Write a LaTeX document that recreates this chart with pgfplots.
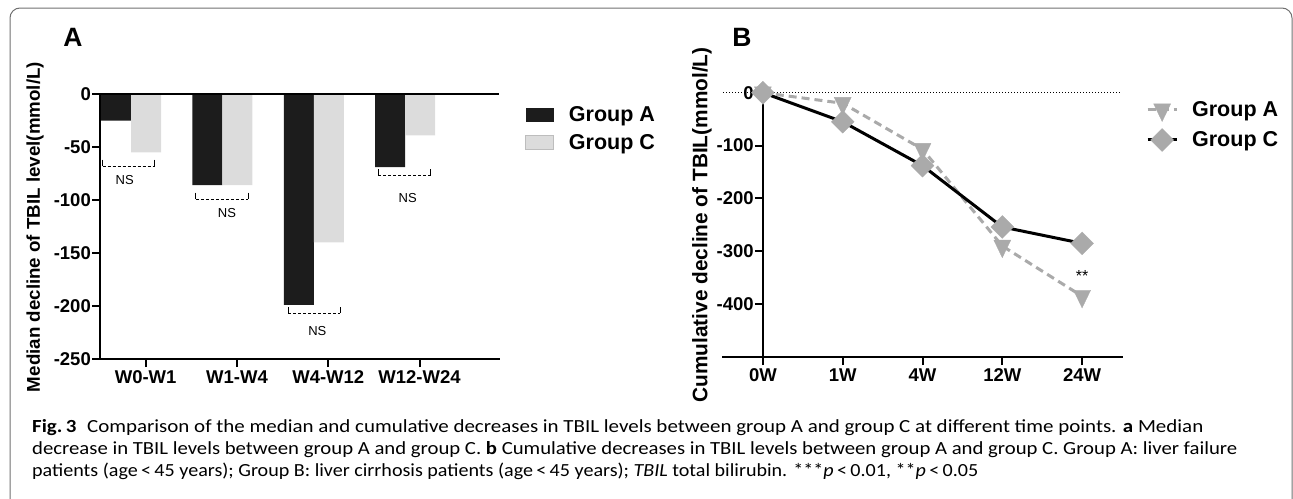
\documentclass[border=0pt]{standalone}
\usepackage{pgfplots}
\pgfplotsset{compat=1.18}
\usepackage{fontspec}
\usepackage{graphicx}
\setmainfont{Liberation Sans}
\newfontfamily\capfont{Carlito}
\definecolor{barA}{HTML}{1C1C1C}
\definecolor{barC}{HTML}{DCDCDC}
\definecolor{barCedge}{HTML}{BDBDBD}
\definecolor{mk}{HTML}{AAAAAA}
\definecolor{framec}{HTML}{707070}
\newcommand\tickfont{\bfseries\fontsize{18.5}{20}\selectfont}
\newcommand\legfont{\bfseries\fontsize{21.5}{24}\selectfont}
\begin{document}
\begin{tikzpicture}
\useasboundingbox (0,0) rectangle (1293pt,-498pt);
\draw[framec, line width=1pt, rounded corners=10pt] (10pt,-520pt) -- (10pt,-8pt) -- (1292pt,-8pt) -- (1292pt,-520pt);

% ---------------- Panel A ----------------
\begin{axis}[
  at={(100pt,-359pt)}, anchor=south west,
  scale only axis, width=399pt, height=265pt,
  xmin=-0.5, xmax=3.87, ymin=-250, ymax=0,
  axis x line=bottom, axis y line=left,
  axis line style={-, line width=2pt, line cap=rect},
  tick style={line width=2pt, black}, major tick length=8pt, tick align=outside,
  xtick={0,1,2,3}, xticklabels={W0-W1,W1-W4,W4-W12,W12-W24},
  ytick={-250,-200,-150,-100,-50,0}, yticklabels={-250,-200,-150,-100,-50,0},
  ticklabel style={font=\tickfont},
  yticklabel style={inner sep=1pt},
  clip=false,
  legend style={at={(1.065,0.96)}, anchor=north west, draw=none, fill=none,
    font=\legfont, row sep=7pt, inner sep=0pt},
  legend cell align=left,
]
\addplot[ybar, bar width=30pt, bar shift=-29.5pt, fill=barA, draw=none,
  legend image code/.code={\fill[barA] (0pt,-7pt) rectangle (28pt,7pt);}]
  coordinates {(0,-25) (1,-86) (2,-199) (3,-69)};
\addlegendentry{\hspace{13pt}Group A}
\addplot[ybar, bar width=30pt, bar shift=0.5pt, fill=barC, draw=none,
  legend image code/.code={\draw[barCedge, fill=barC, line width=0.8pt] (0pt,-7pt) rectangle (28pt,7pt);}]
  coordinates {(0,-55) (1,-86) (2,-140) (3,-39)};
\addlegendentry{\hspace{13pt}Group C}
\addplot[black, line width=2pt, forget plot] coordinates {(-0.5,0) (3.87,0)};
% NS brackets
\draw[line width=0.8pt] (axis cs:-0.47,-62) -- (axis cs:-0.47,-68);
\draw[line width=0.8pt] (axis cs:0.10,-62) -- (axis cs:0.10,-68);
\draw[line width=0.8pt, dash pattern=on 3pt off 2pt] (axis cs:-0.47,-68) -- (axis cs:0.10,-68);
\node[font=\fontsize{13}{15}\selectfont] at (axis cs:-0.23,-81) {NS};
\draw[line width=0.8pt] (axis cs:0.55,-93) -- (axis cs:0.55,-99);
\draw[line width=0.8pt] (axis cs:1.12,-93) -- (axis cs:1.12,-99);
\draw[line width=0.8pt, dash pattern=on 3pt off 2pt] (axis cs:0.55,-99) -- (axis cs:1.12,-99);
\node[font=\fontsize{13}{15}\selectfont] at (axis cs:0.89,-112) {NS};
\draw[line width=0.8pt] (axis cs:1.56,-201) -- (axis cs:1.56,-207);
\draw[line width=0.8pt] (axis cs:2.13,-201) -- (axis cs:2.13,-207);
\draw[line width=0.8pt, dash pattern=on 3pt off 2pt] (axis cs:1.56,-207) -- (axis cs:2.13,-207);
\node[font=\fontsize{13}{15}\selectfont] at (axis cs:1.88,-224) {NS};
\draw[line width=0.8pt] (axis cs:2.55,-71) -- (axis cs:2.55,-77);
\draw[line width=0.8pt] (axis cs:3.12,-71) -- (axis cs:3.12,-77);
\draw[line width=0.8pt, dash pattern=on 3pt off 2pt] (axis cs:2.55,-77) -- (axis cs:3.12,-77);
\node[font=\fontsize{13}{15}\selectfont] at (axis cs:2.87,-98) {NS};
\end{axis}

% ---------------- Panel B ----------------
\begin{axis}[
  at={(723pt,-357pt)}, anchor=south west,
  scale only axis, width=399pt, height=264.3pt,
  xmin=-0.5, xmax=4.5, ymin=-500, ymax=0,
  axis x line=bottom, axis y line=center,
  hide obscured x ticks=false, hide obscured y ticks=false,
  axis line style={-, line width=2pt, line cap=rect},
  tick style={line width=2pt, black}, major tick length=8pt, tick align=outside,
  xtick={0,1,2,3,4}, xticklabels={0W,1W,4W,12W,24W},
  ytick={-400,-300,-200,-100,0}, yticklabels={-400,-300,-200,-100,0},
  ticklabel style={font=\tickfont},
  yticklabel style={inner sep=1pt, anchor=east},
  clip=false,
  legend style={at={(1.06,0.975)}, anchor=north west, draw=none, fill=none,
    font=\legfont, row sep=7pt, inner sep=0pt},
  legend cell align=left,
  legend image code/.code={\draw[#1, mark repeat=2, mark phase=2] plot coordinates {(0pt,0pt) (14.5pt,0pt) (29pt,0pt)};},
]
\addplot[black, dotted, line width=1pt, forget plot] coordinates {(-0.5,0) (4.5,0)};
\addplot[mk, line width=3pt, dash pattern=on 8pt off 5pt,
  mark=triangle*, mark size=9.8pt, mark options={solid, rotate=180, yscale=1.2, fill=mk, draw=mk, line width=0.3pt}]
  coordinates {(0,0) (1,-20) (2,-107) (3,-290) (4,-385)};
\addlegendentry{\hspace{12pt}Group A}
\addplot[black, line width=3pt,
  mark=square*, mark size=8.1pt, mark options={solid, rotate=45, fill=mk, draw=mk, line width=0.3pt}]
  coordinates {(0,0) (1,-55) (2,-138) (3,-254) (4,-285)};
\addlegendentry{\hspace{12pt}Group C}
\node[anchor=base, font=\fontsize{16}{18}\selectfont] at (axis cs:4,-357) {**};
\end{axis}

% panel letters and axis titles
\node[font=\bfseries\fontsize{26.5}{30}\selectfont] at (73pt,-37.5pt) {A};
\node[font=\bfseries\fontsize{26.5}{30}\selectfont] at (742pt,-37.5pt) {B};
\node[rotate=90, inner sep=0pt, font=\bfseries\fontsize{18.5}{20}\selectfont] at (35pt,-227pt)
  {\resizebox{330pt}{\height}{Median decline of TBIL level(mmol/L)}};
\node[rotate=90, inner sep=0pt, font=\bfseries\fontsize{21}{24}\selectfont] at (702pt,-225pt)
  {\resizebox{355pt}{\height}{Cumulative decline of TBIL(mmol/L)}};

% caption
\node[anchor=base west, inner sep=0pt] at (32pt,-432pt) {\resizebox{1171pt}{\height}{\capfont\fontsize{18.5}{22}\selectfont\textbf{Fig.\,3}\enspace Comparison of the median and cumulative decreases in TBIL levels between group A and group C at different time points. \textbf{a} Median}};
\node[anchor=base west, inner sep=0pt] at (32pt,-454pt) {\resizebox{1205pt}{\height}{\capfont\fontsize{18.5}{22}\selectfont decrease in TBIL levels between group A and group C. \textbf{b} Cumulative decreases in TBIL levels between group A and group C. Group A: liver failure}};
\node[anchor=base west, inner sep=0pt] at (32pt,-476pt) {\resizebox{946pt}{\height}{\capfont\fontsize{18.5}{22}\selectfont patients (age\,<\,45 years); Group B: liver cirrhosis patients (age\,<\,45 years); \textit{TBIL} total bilirubin. ***\textit{p}\,<\,0.01, **\textit{p}\,<\,0.05}};
\end{tikzpicture}
\end{document}
